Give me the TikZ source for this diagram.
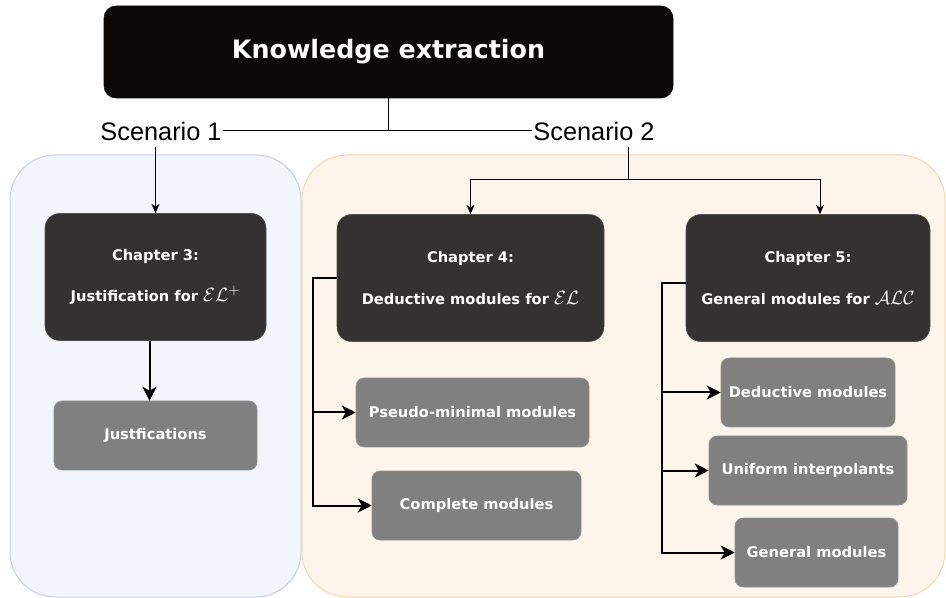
\documentclass[tikz,border=0pt]{standalone}
\usepackage{fontspec}
\setmainfont{DejaVu Sans}
\newfontfamily\scenfont{Liberation Sans}
\usetikzlibrary{arrows.meta}
\definecolor{topblack}{HTML}{0A0907}
\definecolor{chapgray}{HTML}{333231}
\definecolor{subgray}{HTML}{808080}
\definecolor{bluefill}{HTML}{F2F6FC}
\definecolor{bluedraw}{HTML}{C3D0EA}
\definecolor{orfill}{HTML}{FDF5EC}
\definecolor{ordraw}{HTML}{F3D8AA}
\newcommand{\bigmath}[1]{{\fontsize{15}{31}\selectfont$#1$}}
\tikzset{
  container/.style={rounded corners=34pt, line width=0.75pt},
  topbox/.style={fill=topblack, draw=topblack, rounded corners=9pt, text=white,
    minimum width=569*0.75pt, minimum height=92*0.75pt, inner sep=0pt,
    font={\fontsize{19}{23}\selectfont\bfseries}},
  chapbox/.style={fill=chapgray, draw=chapgray!85!white, rounded corners=11pt, text=white,
    minimum height=127*0.75pt, inner sep=0pt, align=center,
    font={\fontsize{11}{31}\selectfont\bfseries}},
  subbox/.style={fill=subgray, draw=subgray!85!white, rounded corners=6pt, text=white,
    minimum height=69*0.75pt, inner sep=0pt,
    font={\fontsize{11}{13}\selectfont\bfseries}},
  scen/.style={font={\scenfont\fontsize{19}{22}\selectfont}, inner sep=0pt},
  thinline/.style={line width=0.75pt, draw=black},
  thinarr/.style={thinline, -{Stealth[length=7pt,width=6pt,inset=2pt]}},
  thickarr/.style={line width=1.5pt, draw=black, -{Stealth[length=10.5pt,width=10.5pt,inset=3pt]}},
}
\begin{document}
\begin{tikzpicture}[x=0.75pt,y=-0.75pt]
\useasboundingbox (0,0) rectangle (946,598);
% containers
\draw[container, fill=bluefill, draw=bluedraw] (10,155) rectangle (301,597);
\draw[container, fill=orfill, draw=ordraw] (302,155) rectangle (945,597);
% top
\node[topbox] (top) at (388.5,52) {Knowledge extraction};
\node[scen] (s1) at (161,131) {Scenario 1};
\node[scen] (s2) at (594,131) {Scenario 2};
% chapters
\node[chapbox, minimum width=221*0.75pt] (ch3) at (155.5,277) {Chapter 3:\\Justification for \bigmath{\mathcal{EL}^{+}}};
\node[chapbox, minimum width=267*0.75pt] (ch4) at (470.5,278) {Chapter 4:\\Deductive modules for \bigmath{\mathcal{EL}}};
\node[chapbox, minimum width=244*0.75pt] (ch5) at (808,278) {Chapter 5:\\General modules for \bigmath{\mathcal{ALC}}};
% sub boxes
\node[subbox, minimum width=203*0.75pt] (just) at (155.5,435.5) {Justfications};
\node[subbox, minimum width=233*0.75pt] (pm) at (472.5,412.5) {Pseudo-minimal modules};
\node[subbox, minimum width=209*0.75pt] (cm) at (476.5,505.5) {Complete modules};
\node[subbox, minimum width=174*0.75pt] (dm) at (808,392.5) {Deductive modules};
\node[subbox, minimum width=198*0.75pt] (ui) at (808,470.5) {Uniform interpolants};
\node[subbox, minimum width=163*0.75pt] (gm) at (816.5,552.5) {General modules};
% scenario connectors
\draw[thinline] ([xshift=1pt]s1.east) -- ([xshift=-1pt]s2.west);
\draw[thinline] (top.south) -- (top.south |- s1.east);
\draw[thinarr] (ch3.north |- 0,147) -- (ch3.north);
\coordinate (s2b) at (628,180);
\draw[thinline] (s2b |- 0,147) -- (s2b);
\draw[thinarr] (s2b) -| (ch4.north);
\draw[thinarr] (s2b) -| ([xshift=9pt]ch5.north);
% chapter 3
\draw[thickarr] ([xshift=-4.5pt]ch3.south) -- ([xshift=-4.5pt]just.north);
% chapter 4
\draw[thickarr] (ch4.west) -- ++(-24,0) |- (pm.west);
\draw[thickarr] (ch4.west) -- ++(-24,0) |- (cm.west);
% chapter 5
\draw[thickarr] ([yshift=-3.75pt]ch5.west) -- ++(-24,0) |- (dm.west);
\draw[thickarr] ([yshift=-3.75pt]ch5.west) -- ++(-24,0) |- (ui.west);
\draw[thickarr] ([yshift=-3.75pt]ch5.west) -- ++(-24,0) |- (gm.west);
\end{tikzpicture}
\end{document}
